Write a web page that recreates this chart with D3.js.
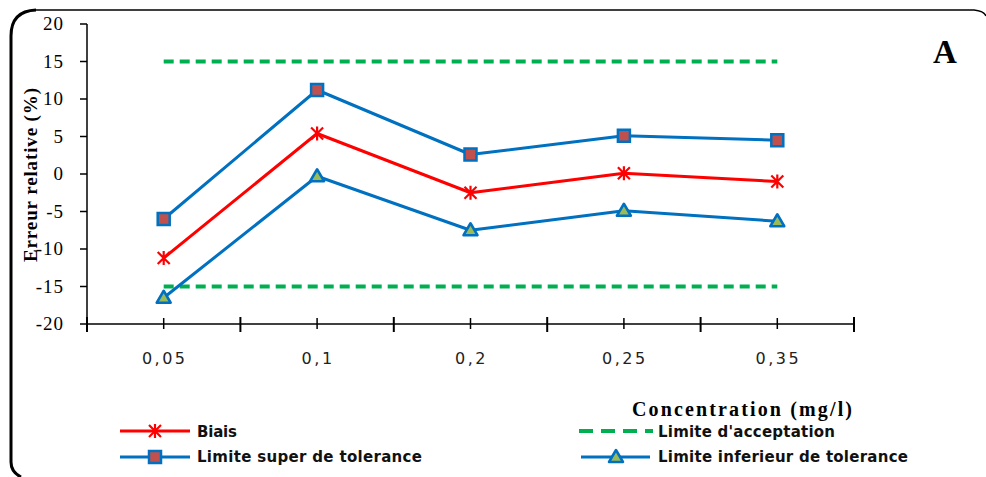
<!DOCTYPE html>
<html>
<head>
<meta charset="utf-8">
<script src="https://cdn.jsdelivr.net/npm/d3@7"></script>
<style>
  body { margin: 0; background: #fff; }
  svg { display: block; }
</style>
</head>
<body>
<div id="chart"></div>
<script>
const categories = ['0,05', '0,1', '0,2', '0,25', '0,35'];
const biais = [-11.2, 5.4, -2.5, 0.1, -1.0];
const limiteSuper = [-6.0, 11.2, 2.6, 5.1, 4.5];
const limiteInferieur = [-16.5, -0.3, -7.5, -4.9, -6.3];
const limiteAccSup = [15, 15, 15, 15, 15];
const limiteAccInf = [-15, -15, -15, -15, -15];
const yTicks = [20, 15, 10, 5, 0, -5, -10, -15, -20];

const W = 986, H = 477;
const margin = { top: 24, right: 132, bottom: 153, left: 87 };

const svg = d3.select('#chart').append('svg')
  .attr('width', W)
  .attr('height', H);

// frame (only left and top edges visible in the reference)
svg.append('path')
  .attr('d', 'M11,36 Q11,11 36,10 M11,36 L11,462 Q11,472 21,477')
  .attr('fill', 'none').attr('stroke', '#000').attr('stroke-width', 3);
svg.append('path')
  .attr('d', 'M34,10 L974,10 Q984,11 986,16')
  .attr('fill', 'none').attr('stroke', '#000').attr('stroke-width', 1.5);

const x = d3.scaleBand()
  .domain(categories)
  .range([margin.left, W - margin.right]);
const y = d3.scaleLinear()
  .domain([-20, 20])
  .range([H - margin.bottom, margin.top]);
const cx = d => x(d) + x.bandwidth() / 2;
const y0 = y(-20);

// y axis
const yAxis = svg.append('g');
yAxis.append('line')
  .attr('x1', margin.left).attr('x2', margin.left)
  .attr('y1', y(20)).attr('y2', y0)
  .attr('stroke', '#000').attr('stroke-width', 1.5);
yAxis.selectAll('.yt').data(yTicks).enter().append('line')
  .attr('x1', margin.left - 7).attr('x2', margin.left)
  .attr('y1', d => y(d)).attr('y2', d => y(d))
  .attr('stroke', '#000').attr('stroke-width', 1.5);
yAxis.selectAll('.yl').data(yTicks).enter().append('text')
  .attr('x', 64).attr('y', d => y(d) + 6)
  .attr('text-anchor', 'end')
  .attr('font-family', "'Liberation Serif', serif")
  .attr('font-size', 19)
  .attr('letter-spacing', 1)
  .text(d => d < 0 ? '-' + Math.abs(d) : d);

// x axis
const xAxis = svg.append('g');
xAxis.append('line')
  .attr('x1', margin.left).attr('x2', W - margin.right)
  .attr('y1', y0).attr('y2', y0)
  .attr('stroke', '#000').attr('stroke-width', 1.5);
const bounds = categories.map(d => x(d)).concat([x.range()[1]]);
xAxis.selectAll('.xb').data(bounds).enter().append('line')
  .attr('x1', d => d).attr('x2', d => d)
  .attr('y1', y0 - 7).attr('y2', y0 + 8)
  .attr('stroke', '#000').attr('stroke-width', 2);
xAxis.selectAll('.xc').data(categories).enter().append('line')
  .attr('x1', cx).attr('x2', cx)
  .attr('y1', y0 - 6).attr('y2', y0 + 5)
  .attr('stroke', '#000').attr('stroke-width', 1.5);
xAxis.selectAll('.xl').data(categories).enter().append('text')
  .attr('x', d => cx(d) + 1).attr('y', y0 + 40)
  .attr('text-anchor', 'middle')
  .attr('font-family', "'DejaVu Sans', sans-serif")
  .attr('font-size', 16)
  .attr('letter-spacing', 2.5)
  .attr('fill', '#222')
  .text(d => d);

// axis titles
svg.append('text')
  .attr('transform', 'translate(37,175) rotate(-90)')
  .attr('text-anchor', 'middle')
  .attr('font-family', "'Liberation Serif', serif")
  .attr('font-weight', 'bold')
  .attr('font-size', 19)
  .attr('textLength', 174)
  .text('Erreur relative (%)');
svg.append('text')
  .attr('x', 632).attr('y', 416)
  .attr('font-family', "'Liberation Serif', serif")
  .attr('font-weight', 'bold')
  .attr('font-size', 20)
  .attr('textLength', 220)
  .text('Concentration  (mg/l)');
svg.append('text')
  .attr('x', 933).attr('y', 63)
  .attr('font-family', "'Liberation Serif', serif")
  .attr('font-weight', 'bold')
  .attr('font-size', 33)
  .text('A');

const line = d3.line().x((d, i) => cx(categories[i])).y(d => y(d));

const BLUE = '#0070c0', RED = '#ff0000', GREEN = '#00b050';

// acceptance limits
[limiteAccSup, limiteAccInf].forEach(s => {
  svg.append('path').datum(s)
    .attr('d', line)
    .attr('fill', 'none').attr('stroke', GREEN)
    .attr('stroke-width', 4).attr('stroke-dasharray', '10,6');
});

// series lines
[[limiteSuper, BLUE], [limiteInferieur, BLUE], [biais, RED]].forEach(([s, c]) => {
  svg.append('path').datum(s)
    .attr('d', line)
    .attr('fill', 'none').attr('stroke', c)
    .attr('stroke-width', 3).attr('stroke-linejoin', 'round');
});

// markers
function square(g, px, py) {
  g.append('rect')
    .attr('x', px - 6).attr('y', py - 6).attr('width', 12).attr('height', 12)
    .attr('fill', '#c0504d').attr('stroke', BLUE).attr('stroke-width', 2.5);
}
function triangle(g, px, py) {
  g.append('path')
    .attr('d', `M${px},${py - 7} L${px + 7},${py + 5} L${px - 7},${py + 5} Z`)
    .attr('fill', '#9bbb59').attr('stroke', BLUE).attr('stroke-width', 2.5)
    .attr('stroke-linejoin', 'round');
}
function star(g, px, py) {
  const r = 6;
  g.append('path')
    .attr('d', `M${px - r},${py - r} L${px + r},${py + r} M${px - r},${py + r} L${px + r},${py - r} M${px},${py - r - 1} L${px},${py + r + 1}`)
    .attr('stroke', RED).attr('stroke-width', 2.2).attr('fill', 'none');
}
const mk = svg.append('g');
limiteSuper.forEach((v, i) => square(mk, cx(categories[i]), y(v)));
limiteInferieur.forEach((v, i) => triangle(mk, cx(categories[i]), y(v)));
biais.forEach((v, i) => star(mk, cx(categories[i]), y(v)));

// legend
const leg = svg.append('g');
const legFont = g => g.attr('font-family', "'DejaVu Sans', sans-serif")
  .attr('font-size', 15).attr('font-weight', 600).attr('fill', '#111');
leg.append('line').attr('x1', 120).attr('x2', 190).attr('y1', 431).attr('y2', 431)
  .attr('stroke', RED).attr('stroke-width', 3);
star(leg, 155, 431);
leg.append('text').attr('x', 197).attr('y', 437).call(legFont)
  .attr('textLength', 40).text('Biais');
leg.append('line').attr('x1', 120).attr('x2', 190).attr('y1', 457).attr('y2', 457)
  .attr('stroke', BLUE).attr('stroke-width', 3);
square(leg, 155, 457);
leg.append('text').attr('x', 197).attr('y', 462).call(legFont)
  .attr('textLength', 225).text('Limite super de tolerance');
leg.append('line').attr('x1', 579).attr('x2', 653).attr('y1', 431).attr('y2', 431)
  .attr('stroke', GREEN).attr('stroke-width', 4).attr('stroke-dasharray', '14,8');
leg.append('text').attr('x', 658).attr('y', 437).call(legFont)
  .attr('textLength', 177).text("Limite d'acceptation");
leg.append('line').attr('x1', 581).attr('x2', 650).attr('y1', 457).attr('y2', 457)
  .attr('stroke', BLUE).attr('stroke-width', 3);
triangle(leg, 616, 457);
leg.append('text').attr('x', 658).attr('y', 462).call(legFont)
  .attr('textLength', 250).text('Limite inferieur de tolerance');
</script>
</body>
</html>
